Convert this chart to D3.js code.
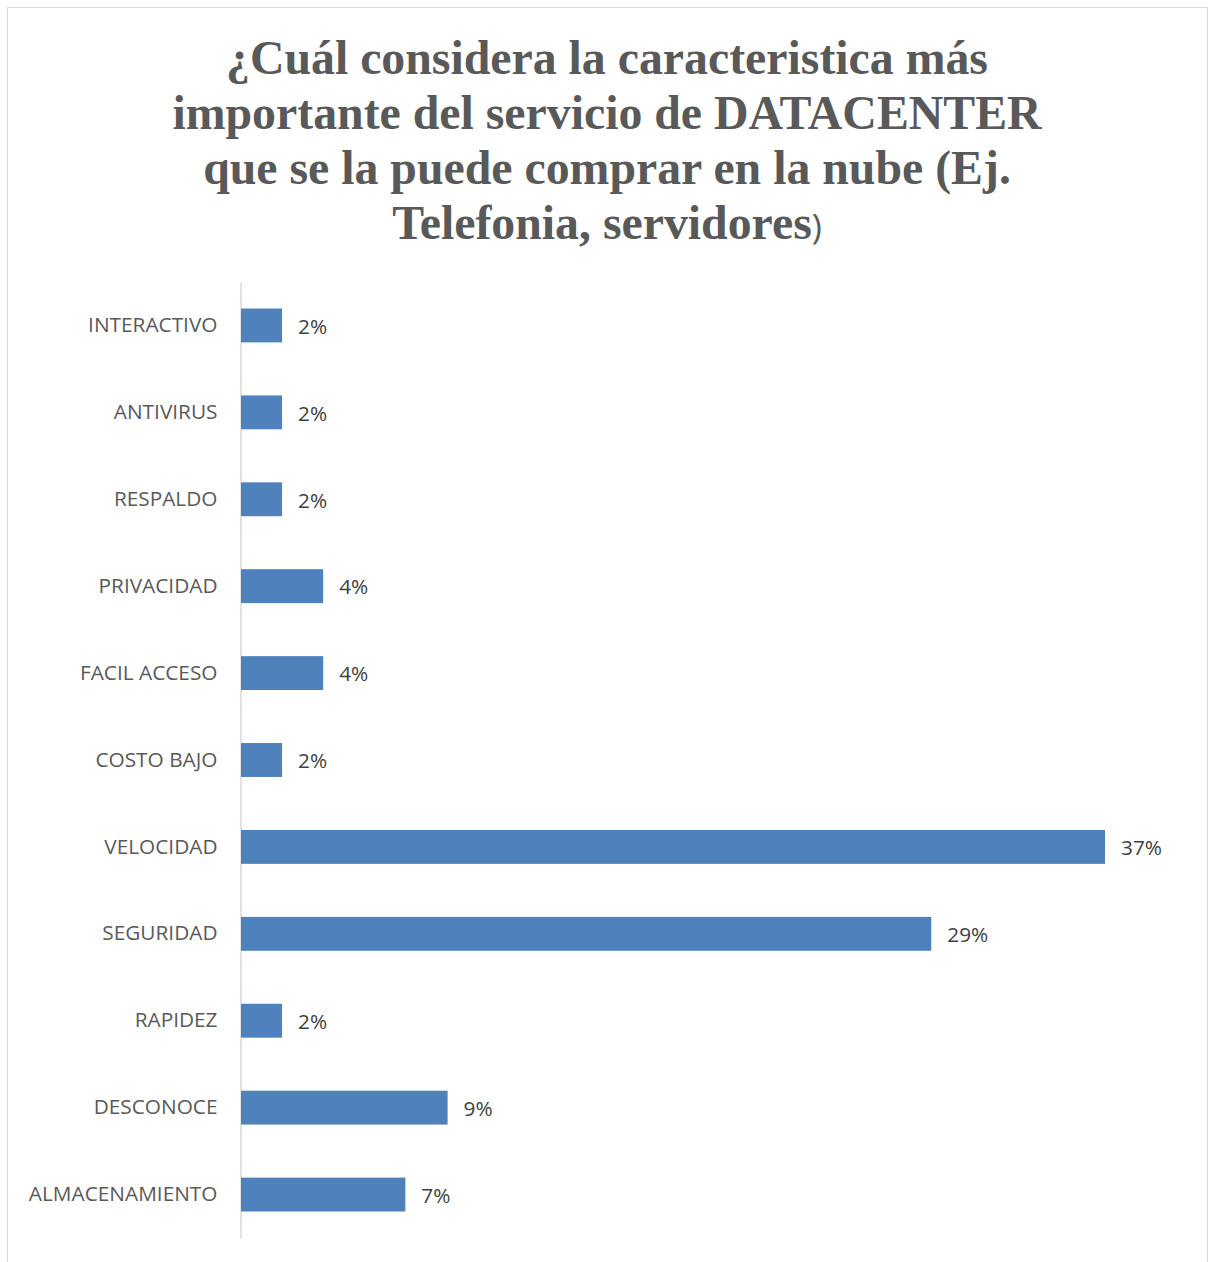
<!DOCTYPE html>
<html>
<head>
<meta charset="utf-8">
<script src="https://cdn.jsdelivr.net/npm/d3@7"></script>
<style>
  html, body { margin: 0; padding: 0; background: #fff; }
  svg { display: block; }
</style>
</head>
<body>
<script>
// Survey answers: share of respondents per characteristic
const categories = [
  "INTERACTIVO", "ANTIVIRUS", "RESPALDO", "PRIVACIDAD", "FACIL ACCESO",
  "COSTO BAJO", "VELOCIDAD", "SEGURIDAD", "RAPIDEZ", "DESCONOCE", "ALMACENAMIENTO"
];
const shares = [0.0175, 0.0175, 0.0175, 0.035, 0.035, 0.0175, 0.368, 0.294, 0.0175, 0.088, 0.070];
const titleLines = [
  "¿Cuál considera la caracteristica más",
  "importante del servicio de DATACENTER",
  "que se la puede comprar en la nube (Ej.",
  "Telefonia, servidores"
];
const titleTail = ")";

const W = 1209, H = 1262;
const svg = d3.select("body").append("svg").attr("width", W).attr("height", H);

// chart frame
svg.append("rect")
  .attr("x", 7.5).attr("y", 7.5).attr("width", 1200).attr("height", 1270)
  .attr("fill", "#fff").attr("stroke", "#d9d9d9").attr("stroke-width", 1);

// title (closing parenthesis set in the body font, smaller)
const title = svg.append("g").selectAll("text").data(titleLines).join("text")
  .attr("x", 607).attr("y", (d, i) => 74 + i * 55)
  .attr("text-anchor", "middle")
  .attr("font-family", "'Liberation Serif', 'Times New Roman', serif")
  .attr("font-weight", "bold").attr("font-size", 47.8)
  .attr("fill", "#595959");
title.append("tspan").text(d => d);
title.filter((d, i) => i === titleLines.length - 1)
  .append("tspan")
  .attr("font-family", "'Open Sans', 'Noto Sans', sans-serif")
  .attr("font-weight", "normal").attr("font-size", 34)
  .text(titleTail);

const x = d3.scaleLinear().domain([0, 0.368]).range([241, 1105]);
const y = d3.scaleBand().domain(categories).range([282, 1238]).paddingInner(0.61).paddingOuter(0.305);

// category axis
const yAxis = svg.append("g").attr("transform", "translate(240.5,0)")
  .call(d3.axisLeft(y).tickSize(0).tickPadding(23));
yAxis.select(".domain").attr("stroke", "#d9d9d9").attr("stroke-width", 1.5);
yAxis.selectAll("text")
  .attr("font-family", "'Open Sans', 'Noto Sans', sans-serif")
  .attr("font-size", 20.8).attr("fill", "#595959");

// bars
svg.append("g").selectAll("rect").data(categories).join("rect")
  .attr("x", x(0))
  .attr("y", d => y(d))
  .attr("width", (d, i) => x(shares[i]) - x(0))
  .attr("height", y.bandwidth())
  .attr("fill", "#4f81bd");

// value labels
const pct = d3.format(".0%");
svg.append("g").selectAll("text").data(categories).join("text")
  .attr("x", (d, i) => x(shares[i]) + 16)
  .attr("y", d => y(d) + y.bandwidth() / 2 + 1)
  .attr("dy", "0.35em")
  .attr("font-family", "'Open Sans', 'Noto Sans', sans-serif")
  .attr("font-size", 20.8).attr("fill", "#404040")
  .text((d, i) => pct(shares[i]));
</script>
</body>
</html>
